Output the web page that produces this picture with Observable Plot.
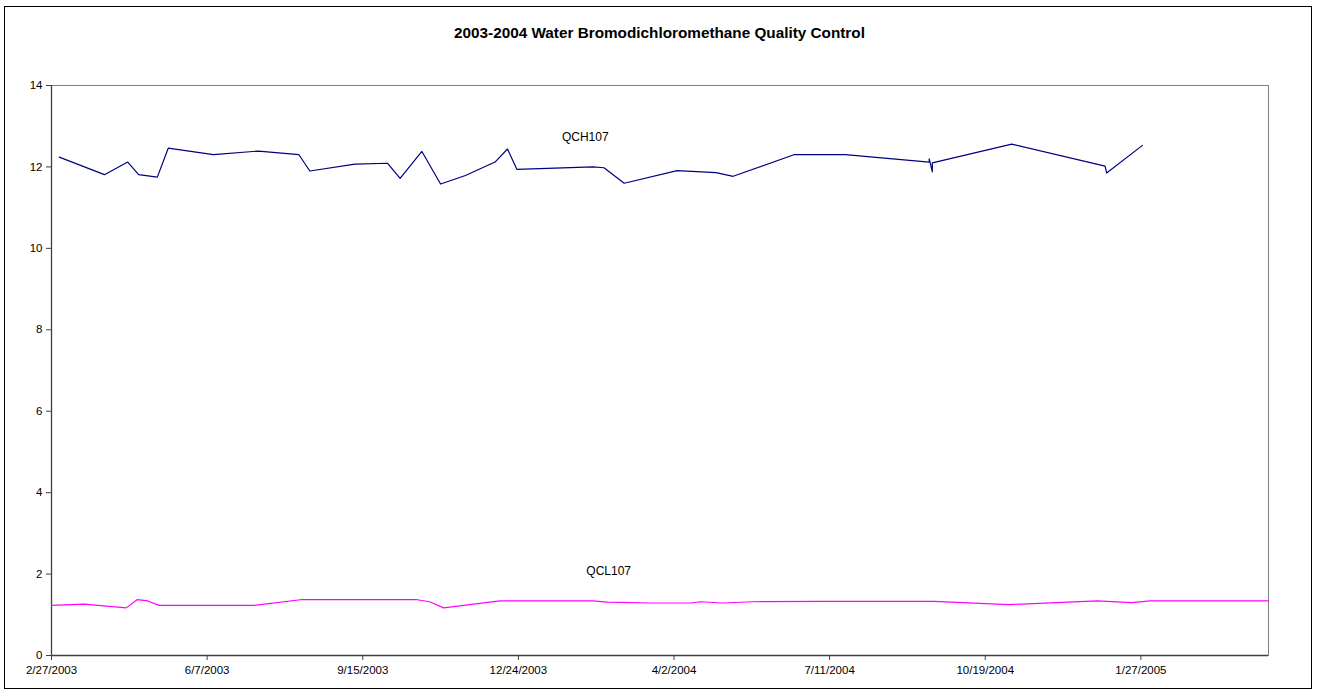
<!DOCTYPE html>
<html>
<head>
<meta charset="utf-8">
<script src="https://cdn.jsdelivr.net/npm/d3@7"></script>
<script src="https://cdn.jsdelivr.net/npm/@observablehq/plot@0.6"></script>
<style>
  html, body { margin: 0; padding: 0; background: #fff; }
  body { width: 1319px; height: 694px; position: relative; overflow: hidden; font-family: Arial, "Liberation Sans", sans-serif; }
  #frame { position: absolute; left: 4px; top: 6px; width: 1308px; height: 683px; border: 1px solid #000; box-sizing: border-box; }
  #title { position: absolute; left: 0; top: 24px; width: 1319px; text-align: center; font-weight: bold; font-size: 15.3px; color: #000; }
  #chart { position: absolute; left: 0; top: 70px; }
</style>
</head>
<body>
<div id="frame"></div>
<div id="title">2003-2004 Water Bromodichloromethane Quality Control</div>
<div id="chart"></div>
<script>
// ---- Data ----
const qchDates = ["2003-03-04","2003-04-02","2003-04-17","2003-04-24","2003-05-06","2003-05-13","2003-06-11","2003-07-10","2003-08-05","2003-08-12","2003-09-10","2003-10-01","2003-10-09","2003-10-23","2003-11-04","2003-11-20","2003-12-09","2003-12-17","2003-12-23","2004-02-10","2004-02-17","2004-03-01","2004-04-04","2004-04-29","2004-05-10","2004-06-18","2004-07-21","2004-09-13","2004-09-13","2004-09-15","2004-09-15","2004-11-05","2005-01-04","2005-01-05","2005-01-28"];
const qchValues = [12.24,11.81,12.12,11.81,11.75,12.46,12.30,12.39,12.30,11.90,12.07,12.09,11.72,12.38,11.58,11.79,12.12,12.44,11.94,12.00,11.98,11.60,11.91,11.86,11.77,12.30,12.30,12.12,12.20,11.88,12.10,12.56,12.02,11.85,12.53];

const qclDates = ["2003-02-27","2003-03-20","2003-04-16","2003-04-23","2003-04-30","2003-05-07","2003-07-07","2003-08-06","2003-10-20","2003-10-28","2003-11-06","2003-12-12","2004-02-10","2004-02-19","2004-03-18","2004-04-13","2004-04-19","2004-05-03","2004-05-23","2004-07-07","2004-09-16","2004-11-03","2004-12-30","2005-01-21","2005-02-02","2005-04-19"];
const qclValues = [1.23,1.26,1.17,1.37,1.34,1.23,1.23,1.37,1.37,1.32,1.17,1.34,1.34,1.31,1.29,1.29,1.32,1.29,1.32,1.33,1.33,1.25,1.34,1.30,1.34,1.34];

const seriesNames = ["QCH107", "QCL107"];
const seriesColors = ["#000080", "#FF00FF"];
const labelDates = ["2004-02-05", "2004-02-20"];
const labelValues = [12.72, 2.06];

const xTickLabels = ["2/27/2003","6/7/2003","9/15/2003","12/24/2003","4/2/2004","7/11/2004","10/19/2004","1/27/2005"];
const yTicks = [0, 2, 4, 6, 8, 10, 12, 14];
const xDomain = ["2003-02-27", "2005-04-19"];

// ---- Build tables ----
const qch = qchDates.map((d, i) => ({date: new Date(d), value: qchValues[i]}));
const qcl = qclDates.map((d, i) => ({date: new Date(d), value: qclValues[i]}));
const labels = seriesNames.map((name, i) => ({name, date: new Date(labelDates[i]), value: labelValues[i], color: seriesColors[i]}));
const parseTick = s => { const [m, d, y] = s.split("/").map(Number); return new Date(Date.UTC(y, m - 1, d)); };
const xTicks = xTickLabels.map(parseTick);
const fmt = d3.utcFormat("%-m/%-d/%Y");

const chart = Plot.plot({
  width: 1319,
  height: 624,
  marginLeft: 51,
  marginRight: 51,
  marginTop: 15,
  marginBottom: 39,
  style: {fontFamily: "Arial, 'Liberation Sans', sans-serif", fontSize: "11.5px", color: "#000", background: "transparent"},
  x: {type: "utc", domain: xDomain.map(d => new Date(d)), ticks: xTicks, tickFormat: fmt, tickSize: 5, tickPadding: 5, label: null},
  y: {domain: [0, 14], ticks: yTicks, tickSize: 5, tickPadding: 4, label: null},
  marks: [
    Plot.frame({stroke: "#808080"}),
    Plot.ruleX([new Date(xDomain[0])], {stroke: "#404040", strokeWidth: 1.3}),
    Plot.ruleY([0], {stroke: "#404040", strokeWidth: 1.3}),
    Plot.axisX({ticks: xTicks, tickFormat: fmt, tickSize: 5, tickPadding: 5, stroke: "#404040", fill: "#000"}),
    Plot.axisY({ticks: yTicks, tickSize: 5, tickPadding: 4, stroke: "#404040", fill: "#000"}),
    Plot.line(qch, {x: "date", y: "value", stroke: seriesColors[0], strokeWidth: 1.2}),
    Plot.line(qcl, {x: "date", y: "value", stroke: seriesColors[1], strokeWidth: 1.2}),
    Plot.text(labels, {x: "date", y: "value", text: "name", fill: "#000", fontSize: 12})
  ]
});
document.getElementById("chart").appendChild(chart);
</script>
</body>
</html>
